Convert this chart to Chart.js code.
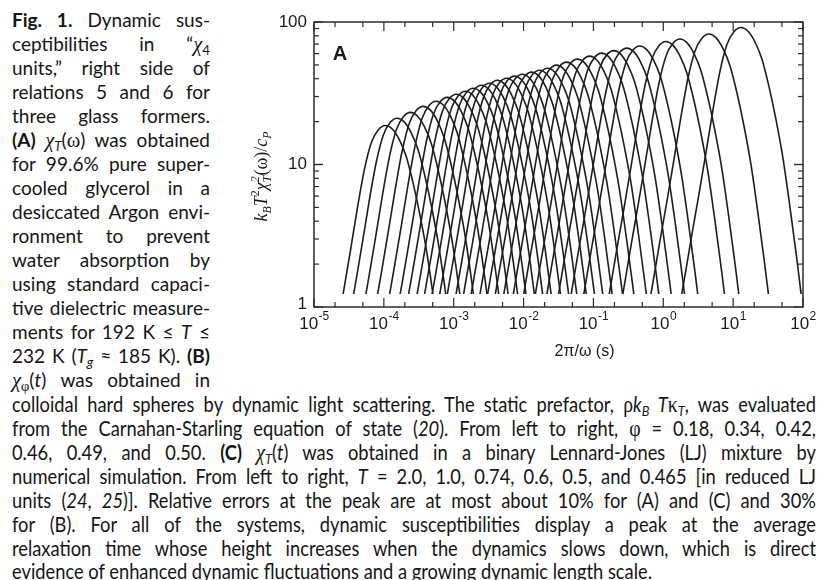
<!DOCTYPE html>
<html>
<head>
<meta charset="utf-8">
<script src="https://cdn.jsdelivr.net/npm/chart.js@4.4.0/dist/chart.umd.min.js"></script>
<style>
  html, body { margin: 0; padding: 0; background: #fff; }
  body { width: 822px; height: 580px; position: relative; overflow: hidden;
         font-family: Lato, "Open Sans", sans-serif; color: #151515; }
  .ln { position: absolute; left: 12px; height: 24px; line-height: 24px; font-size: 19px;
        text-align: justify; text-align-last: justify; }
  .col { width: 198px; }
  .full { width: 804px; transform-origin: 0 0; font-size: 20.5px; }
  .last { text-align: left; text-align-last: left; }
  sub { font-size: 70%; vertical-align: -0.3em; line-height: 0; }
  .g { font-family: "Liberation Serif", "DejaVu Serif", serif; font-style: italic; font-size: 108%; }
  .u { font-family: "Liberation Serif", "DejaVu Serif", serif; font-size: 108%; }
  canvas { position: absolute; left: 0; top: 0; }
</style>
</head>
<body>
<div class="ln col" style="top:8px"><b>Fig. 1.</b> Dynamic sus-</div>
<div class="ln col" style="top:32px">ceptibilities in “<span class="g">χ</span><sub>4</sub></div>
<div class="ln col" style="top:56px">units,” right side of</div>
<div class="ln col" style="top:80px">relations 5 and 6 for</div>
<div class="ln col" style="top:104px">three glass formers.</div>
<div class="ln col" style="top:128px"><b>(A)</b> <span class="g">χ</span><sub><i>T</i></sub>(<span class="u">ω</span>) was obtained</div>
<div class="ln col" style="top:152px">for 99.6% pure super-</div>
<div class="ln col" style="top:176px">cooled glycerol in a</div>
<div class="ln col" style="top:200px">desiccated Argon envi-</div>
<div class="ln col" style="top:224px">ronment to prevent</div>
<div class="ln col" style="top:248px">water absorption by</div>
<div class="ln col" style="top:272px">using standard capaci-</div>
<div class="ln col" style="top:296px">tive dielectric measure-</div>
<div class="ln col" style="top:320px">ments for 192 K ≤ <i>T</i> ≤</div>
<div class="ln col" style="top:344px">232 K (<i>T<sub>g</sub></i> ≈ 185 K). <b>(B)</b></div>
<div class="ln col" style="top:368px"><span class="g">χ</span><sub><span class="u">φ</span></sub>(<i>t</i>) was obtained in</div>
<div class="ln full" style="top:392px">colloidal hard spheres by dynamic light scattering. The static prefactor, <span class="u">ρ</span><i>k<sub>B</sub> T</i><span class="u">κ</span><sub><i>T</i></sub>, was evaluated</div>
<div class="ln full" style="top:416px">from the Carnahan-Starling equation of state (<i>20</i>). From left to right, <span class="u">φ</span> = 0.18, 0.34, 0.42,</div>
<div class="ln full" style="top:440px">0.46, 0.49, and 0.50. <b>(C)</b> <span class="g">χ</span><sub><i>T</i></sub>(<i>t</i>) was obtained in a binary Lennard-Jones (LJ) mixture by</div>
<div class="ln full" style="top:464px">numerical simulation. From left to right, <i>T</i> = 2.0, 1.0, 0.74, 0.6, 0.5, and 0.465 [in reduced LJ</div>
<div class="ln full" style="top:488px">units (<i>24</i>, <i>25</i>)]. Relative errors at the peak are at most about 10% for (A) and (C) and 30%</div>
<div class="ln full" style="top:512px">for (B). For all of the systems, dynamic susceptibilities display a peak at the average</div>
<div class="ln full" style="top:536px">relaxation time whose height increases when the dynamics slows down, which is direct</div>
<div class="ln full last" style="top:559px"><span id="probe">evidence of enhanced dynamic fluctuations and a growing dynamic length scale.</span></div>

<canvas id="chart" width="822" height="580"></canvas>

<script>
// peak position (2π/ω in s) and peak height of each curve, left to right
const peakTimes = [1.05e-4, 1.55e-4, 2.4e-4, 3.66e-4, 5.6e-4, 8.1e-4, 1.09e-3, 1.47e-3, 1.91e-3, 2.49e-3,
  3.24e-3, 4.23e-3, 5.7e-3, 7.4e-3, 9.6e-3, 1.3e-2, 1.69e-2, 2.2e-2, 2.96e-2, 4.12e-2,
  5.9e-2, 8.8e-2, 0.131, 0.195, 0.30, 0.46, 1.09, 1.73, 4.5, 12.9];
const peakHeights = [18.8, 21.1, 23.2, 25.6, 27.8, 29.6, 31.1, 32.7, 34.3, 36.0,
  37.2, 39.0, 40.3, 41.7, 43.0, 44.5, 45.9, 47.4, 49.8, 52.3,
  54.9, 57.6, 60.5, 63.0, 65.6, 67.8, 72.9, 75.9, 82.3, 91.5];

// curve shape: distance from the peak (decades of time)
// and how far below the peak (decades of susceptibility)
const profileOffsets = [-1.0, -0.9, -0.8, -0.7, -0.6, -0.5, -0.4, -0.3, -0.2, -0.1, 0,
  0.1, 0.2, 0.3, 0.4, 0.5, 0.6, 0.7, 0.8, 0.9, 1.0];
const profileDrops = [2.32, 2.02, 1.74, 1.45, 1.17, 0.88, 0.58, 0.31, 0.12, 0.03, 0,
  0.025, 0.1, 0.22, 0.41, 0.64, 0.91, 1.25, 1.62, 2.02, 2.42];

const xTickExponents = [-5, -4, -3, -2, -1, 0, 1, 2];
const yTickValues = [1, 10, 100];
const yTickLabels = ['1', '10', '100'];

// squeeze the full-width caption lines like the journal layout does
const probe = document.getElementById('probe');
const squeeze = 640 / probe.getBoundingClientRect().width;
document.querySelectorAll('.full').forEach((d) => {
  d.style.width = (804 / squeeze) + 'px';
  d.style.transform = `scaleX(${squeeze})`;
});

const datasets = peakTimes.map((t, i) => ({
  data: profileOffsets.map((dx, k) => ({
    x: t * Math.pow(10, dx),
    y: peakHeights[i] / Math.pow(10, profileDrops[k]),
  })),
  borderColor: '#1d1d1d',
  borderWidth: 1.6,
  pointRadius: 0,
  fill: false,
  cubicInterpolationMode: 'monotone',
  clip: { left: 0, top: 0, right: 0, bottom: -13 },
}));

function drawRuns(ctx, runs, x, y) {
  // runs: {t, font, dy} or {stack:[sup, sub], font}
  let w = 0;
  runs.forEach((r) => {
    ctx.font = r.font;
    r.w = r.stack ? Math.max(...r.stack.map((s) => ctx.measureText(s).width)) : ctx.measureText(r.t).width;
    w += r.w;
  });
  let cx = x - w / 2;
  runs.forEach((r) => {
    ctx.font = r.font;
    if (r.stack) {
      ctx.fillText(r.stack[0], cx, y - 8);
      ctx.fillText(r.stack[1], cx, y + 4);
    } else {
      ctx.fillText(r.t, cx, y + (r.dy || 0));
    }
    cx += r.w;
  });
}

const frame = {
  id: 'frame',
  afterDatasetsDraw(chart) {
    const { ctx, chartArea: a, scales: { x, y } } = chart;
    ctx.save();
    ctx.strokeStyle = '#2b2b2b';
    ctx.lineWidth = 1.5;
    ctx.strokeRect(a.left, a.top, a.right - a.left, a.bottom - a.top);

    const line = (x1, y1, x2, y2) => {
      ctx.beginPath(); ctx.moveTo(x1, y1); ctx.lineTo(x2, y2); ctx.stroke();
    };
    ctx.lineWidth = 1.2;
    // x ticks: majors every decade, minors at 2 and 5
    xTickExponents.forEach((e) => {
      [1, 2, 5].forEach((m) => {
        const v = m * Math.pow(10, e);
        if (v > x.max * 1.0001) return;
        const px = x.getPixelForValue(v);
        const len = m === 1 ? 9 : 5;
        line(px, a.bottom, px, a.bottom - len);
        line(px, a.top, px, a.top + len);
      });
    });
    // y ticks: majors every decade, minors 2..9
    [0, 1].forEach((e) => {
      for (let m = 1; m <= 10; m++) {
        const v = m * Math.pow(10, e);
        const py = y.getPixelForValue(v);
        const len = (m === 1 || m === 10) ? 9 : 5;
        line(a.left, py, a.left + len, py);
        line(a.right, py, a.right - len, py);
      }
    });

    ctx.fillStyle = '#1a1a1a';
    ctx.textBaseline = 'middle';
    // y tick labels
    ctx.font = '17px "Liberation Sans", Arial, sans-serif';
    ctx.textAlign = 'right';
    yTickValues.forEach((v, i) => {
      const py = y.getPixelForValue(v);
      ctx.fillText(yTickLabels[i], a.left - 7, py + (v === 1 ? -3 : 0));
    });
    // x tick labels 10^n
    ctx.textAlign = 'left';
    xTickExponents.forEach((e) => {
      const px = x.getPixelForValue(Math.pow(10, e));
      ctx.font = '17px "Liberation Sans", Arial, sans-serif';
      const w1 = ctx.measureText('10').width;
      ctx.font = '12px "Liberation Sans", Arial, sans-serif';
      const w2 = ctx.measureText(String(e)).width;
      const left = px - (w1 + w2) / 2;
      ctx.font = '17px "Liberation Sans", Arial, sans-serif';
      ctx.fillText('10', left, a.bottom + 17);
      ctx.font = '12px "Liberation Sans", Arial, sans-serif';
      ctx.fillText(String(e), left + w1 + 0.5, a.bottom + 10);
    });
    // x title
    ctx.textAlign = 'center';
    ctx.font = '16px "Liberation Sans", Arial, sans-serif';
    ctx.fillText('2π/ω (s)', (a.left + a.right) / 2 + 26, a.bottom + 45);
    // panel letter
    ctx.font = 'bold 20px "Liberation Sans", Arial, sans-serif';
    ctx.fillText('A', a.left + 26, a.top + 32);

    // y title, rotated
    ctx.save();
    ctx.translate(a.left - 52, (a.top + a.bottom) / 2 + 12);
    ctx.rotate(-Math.PI / 2);
    ctx.textAlign = 'left';
    ctx.textBaseline = 'alphabetic';
    const big = 'italic 18px "Liberation Serif", "DejaVu Serif", serif';
    const small = 'italic 12px "Liberation Serif", "DejaVu Serif", serif';
    const smallUp = '12px "Liberation Serif", "DejaVu Serif", serif';
    const up = '18px "Liberation Serif", "DejaVu Serif", serif';
    drawRuns(ctx, [
      { t: 'k', font: big },
      { t: 'B', font: small, dy: 4 },
      { t: 'T', font: big },
      { t: '2', font: smallUp, dy: -8 },
      { t: 'χ', font: big },
      { stack: ['2', 'T'], font: small },
      { t: '(ω)/', font: up },
      { t: 'c', font: big },
      { t: 'P', font: small, dy: 4 },
    ], 0, 5);
    ctx.restore();
    ctx.restore();
  },
};

new Chart(document.getElementById('chart').getContext('2d'), {
  type: 'line',
  data: { datasets },
  options: {
    responsive: false,
    animation: false,
    events: [],
    layout: { padding: { left: 314, top: 22, right: 19, bottom: 273 } },
    plugins: { legend: { display: false }, tooltip: { enabled: false } },
    scales: {
      x: {
        type: 'logarithmic', min: 1e-5, max: 1e2,
        ticks: { display: false }, grid: { display: false, drawTicks: false }, border: { display: false },
      },
      y: {
        type: 'logarithmic', min: 1, max: 100,
        ticks: { display: false }, grid: { display: false, drawTicks: false }, border: { display: false },
      },
    },
  },
  plugins: [frame],
});
</script>
</body>
</html>
